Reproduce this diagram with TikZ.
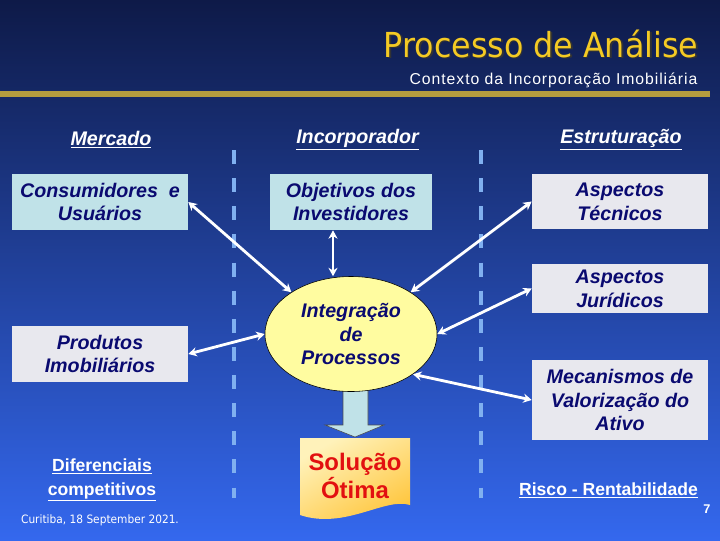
\documentclass[tikz,border=0pt]{standalone}
\usepackage{fontspec}
\setmainfont{Liberation Sans}
\newfontfamily\titlefont{DejaVu Sans}[FakeStretch=0.92]
\usetikzlibrary{shapes.geometric,arrows.meta}
\definecolor{bgtop}{RGB}{14,26,72}
\definecolor{bgmid}{RGB}{38,76,184}
\definecolor{bgbot}{RGB}{52,104,238}
\definecolor{navytext}{RGB}{10,10,112}
\definecolor{boxcyan}{RGB}{192,226,232}
\definecolor{boxgrey}{RGB}{232,232,238}
\definecolor{gold}{RGB}{180,156,62}
\definecolor{titleyellow}{RGB}{244,202,36}
\definecolor{divblue}{RGB}{128,176,240}
\definecolor{ellfill}{RGB}{255,252,160}
\definecolor{solA}{RGB}{255,242,186}
\definecolor{solB}{RGB}{255,196,56}
\definecolor{solred}{RGB}{226,16,16}
\begin{document}
\begin{tikzpicture}[x=0.025cm,y=-0.025cm,
	box/.style={inner sep=0pt,align=center,text=navytext,font=\fontsize{14}{17}\selectfont\bfseries\itshape},
	head/.style={anchor=base,text=white,font=\fontsize{14}{17}\selectfont\bfseries\itshape},
	foot/.style={anchor=base,text=white,align=center,font=\fontsize{12.5}{17}\selectfont\bfseries},
	link/.style={{Stealth[length=6pt,width=6.5pt]}-{Stealth[length=6pt,width=6.5pt]},white,line width=2pt},
	divider/.style={divblue,line width=3.5pt,dash pattern=on 10pt off 10pt}]
	\useasboundingbox (0,0) rectangle (720,540);
	\shade [top color=bgtop, middle color=bgmid, bottom color=bgbot] (0,0) rectangle (720,540);
	% title
	\node [anchor=base,text=black!80,font=\titlefont\fontsize{24.5}{28}\selectfont] (titleshadow) at (542.5,58.5) {Processo de Análise};
	\node [anchor=base,text=titleyellow,font=\titlefont\fontsize{24.5}{28}\selectfont] (title) at (541,57) {Processo de Análise};
	\node [anchor=base,text=white,font=\fontsize{11.2}{13}\selectfont\addfontfeature{LetterSpace=6}] (subtitle) at (553.5,84) {Contexto da Incorporação Imobiliária};
	\fill [gold] (0,91) rectangle (710,97);
	% column dividers
	\draw [divider] (234,150) -- (234,498);
	\draw [divider] (481,150) -- (481,498);
	% column heads
	\node [head] (mercado) at (111,145) {\underline{Mercado}};
	\node [head] (incorp) at (357.5,143) {\underline{Incorporador}};
	\node [head] (estrut) at (621,143) {\underline{Estruturação}};
	% boxes
	\node [box,fill=boxcyan,minimum width=4.4cm,minimum height=1.4cm] (cons) at (100,202) {Consumidores\ \ e\\Usuários};
	\node [box,fill=boxcyan,minimum width=4.05cm,minimum height=1.4cm] (obj) at (351,202) {Objetivos dos\\Investidores};
	\node [box,fill=boxgrey,minimum width=4.4cm,minimum height=1.375cm] (tec) at (620,201.5) {Aspectos\\Técnicos};
	\node [box,fill=boxgrey,minimum width=4.4cm,minimum height=1.225cm] (jur) at (620,288.5) {Aspectos\\Jurídicos};
	\node [box,fill=boxgrey,minimum width=4.4cm,minimum height=2cm] (mec) at (620,400) {Mecanismos de\\Valorização do\\Ativo};
	\node [box,fill=boxgrey,minimum width=4.4cm,minimum height=1.4cm] (prod) at (100,354) {Produtos\\Imobiliários};
	% block arrow down
	\draw [fill=boxcyan,draw=black!70,thin] (343,388) -- (368,388) -- (368,425) -- (384,425) -- (355,437) -- (325,425) -- (343,425) -- cycle;
	\node [box,ellipse,fill=ellfill,draw=black,thin,minimum width=4.3cm,minimum height=2.875cm] (integ) at (351,334) {Integração\\de\\Processos};
	% solution
	\shade [shading=axis,top color=solA,bottom color=solB,shading angle=30] (300,438) -- (410,438) -- (410,505) .. controls (385,497) and (345,530) .. (300,515) -- cycle;
	\node [align=center,text=solred,font=\fontsize{17}{20}\selectfont\bfseries] (sol) at (355,476) {Solução\\Ótima};
	% links
	\draw [link] (cons.east) -- (integ.145);
	\draw [link] ([xshift=-0.45cm]obj.south) -- ([xshift=-0.45cm]integ.north);
	\draw [link] (tec.west) -- (integ.35);
	\draw [link] (jur.west) -- (integ.east);
	\draw [link] (mec.west) -- (integ.-33);
	\draw [link] (prod.east) -- (integ.west);
	% footers
	\node [foot] (dif) at (102,495) {\underline{Diferenciais}\\\underline{competitivos}};
	\node [foot] (risco) at (608.5,495) {\underline{Risco - Rentabilidade}};
	\node [anchor=base,text=white,font=\titlefont\fontsize{8.2}{10}\selectfont] (date) at (100,523) {Curitiba, 18 September 2021.};
	\node [anchor=base,text=white,font=\fontsize{9}{10}\selectfont\bfseries] (page) at (707,513) {7};
\end{tikzpicture}
\end{document}
